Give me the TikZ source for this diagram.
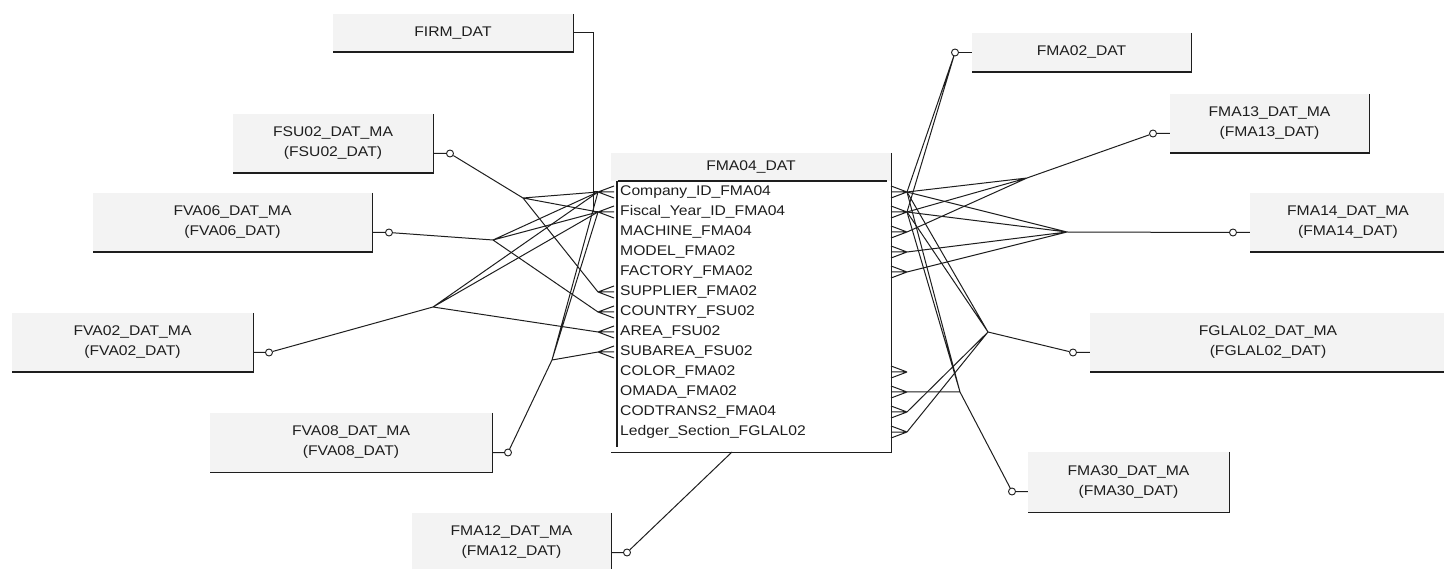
\documentclass[tikz,border=0pt]{standalone}
\usepackage{fontspec}
\setmainfont[FakeStretch=1.12]{Liberation Sans}
\definecolor{ink}{HTML}{1E1E1E}
\definecolor{boxfill}{HTML}{F3F3F3}
\begin{document}
\begin{tikzpicture}[x=1pt,y=-1pt,
  tbl/.style={fill=boxfill, inner sep=0pt, align=center, font=\fontsize{14}{20}\selectfont, text=ink},
  attr/.style={anchor=west, inner sep=0pt, font=\fontsize{14}{20}\selectfont, text=ink},
  boxline/.style={draw=ink, line width=1.4pt},
  rel/.style={draw=ink, line width=1pt},
  opt/.style={circle, draw=ink, fill=white, inner sep=0pt, minimum size=7pt, line width=0.9pt},
  crowl/.pic={\draw[rel] (0,0) -- (16,-6) (0,0) -- (16,0) (0,0) -- (16,6);},
  crowr/.pic={\draw[rel] (0,0) -- (-16,-6) (0,0) -- (-16,0) (0,0) -- (-16,6);}]
\useasboundingbox[fill=white] (0,0) rectangle (1444,569);

% ---------- peripheral tables ----------
\node[tbl, minimum width=240pt, minimum height=38pt] (firm) at (453,33) {FIRM\_DAT};
\node[tbl, minimum width=200pt, minimum height=59pt] (fsu) at (333,143.5) {FSU02\_DAT\_MA\\(FSU02\_DAT)};
\node[tbl, minimum width=279pt, minimum height=59pt] (fva06) at (232.5,222.5) {FVA06\_DAT\_MA\\(FVA06\_DAT)};
\node[tbl, minimum width=241pt, minimum height=59pt] (fva02) at (132.5,342.5) {FVA02\_DAT\_MA\\(FVA02\_DAT)};
\node[tbl, minimum width=282pt, minimum height=59pt] (fva08) at (351,442.5) {FVA08\_DAT\_MA\\(FVA08\_DAT)};
\node[tbl, minimum width=199pt, minimum height=59pt] (fma12) at (511.5,542.5) {FMA12\_DAT\_MA\\(FMA12\_DAT)};
\node[tbl, minimum width=219pt, minimum height=39pt] (fma02) at (1081.5,52.5) {FMA02\_DAT};
\node[tbl, minimum width=199pt, minimum height=59pt] (fma13) at (1269.5,123.5) {FMA13\_DAT\_MA\\(FMA13\_DAT)};
\node[tbl, minimum width=196pt, minimum height=59pt] (fma14) at (1348,222.5) {FMA14\_DAT\_MA\\(FMA14\_DAT)};
\node[tbl, minimum width=356pt, minimum height=59pt] (fglal) at (1268,342.5) {FGLAL02\_DAT\_MA\\(FGLAL02\_DAT)};
\node[tbl, minimum width=201pt, minimum height=60pt] (fma30) at (1128.5,482) {FMA30\_DAT\_MA\\(FMA30\_DAT)};
\foreach \n in {firm,fsu,fva06,fva02,fva08,fma02,fma13,fma14,fglal,fma30}
  \draw[boxline] (\n.north east) -- (\n.south east) -- (\n.south west);
\draw[boxline] (fma12.north east) -- (fma12.south east);

% ---------- central table ----------
\node[tbl, minimum width=280pt, minimum height=28pt] (ttl) at (751,167) {FMA04\_DAT};
\node[fill=white, inner sep=0pt, minimum width=280pt, minimum height=271pt] (tbody) at (751,316.5) {};
\draw[boxline] (ttl.north east) -- (tbody.south east) -- (tbody.south west);
\draw[boxline] ([xshift=7pt]ttl.south west) -- ([xshift=-4pt]ttl.south east);
\draw[boxline] ([xshift=6pt]tbody.north west) -- ([xshift=6pt,yshift=5pt]tbody.south west);
\node[attr] (a1) at (620,192) {Company\_ID\_FMA04};
\node[attr] (a2) at (620,212) {Fiscal\_Year\_ID\_FMA04};
\node[attr] (a3) at (620,232) {MACHINE\_FMA04};
\node[attr] (a4) at (620,252) {MODEL\_FMA02};
\node[attr] (a5) at (620,272) {FACTORY\_FMA02};
\node[attr] (a6) at (620,292) {SUPPLIER\_FMA02};
\node[attr] (a7) at (620,312) {COUNTRY\_FSU02};
\node[attr] (a8) at (620,332) {AREA\_FSU02};
\node[attr] (a9) at (620,352) {SUBAREA\_FSU02};
\node[attr] (a10) at (620,372) {COLOR\_FMA02};
\node[attr] (a11) at (620,392) {OMADA\_FMA02};
\node[attr] (a12) at (620,412) {CODTRANS2\_FMA04};
\node[attr] (a13) at (620,432) {Ledger\_Section\_FGLAL02};

% crow's feet anchor points
\foreach \k in {1,...,13} {
  \coordinate (L\k) at (598,172+20*\k);
  \coordinate (R\k) at (907,172+20*\k);
}
\foreach \k in {1,2,6,7,8,9} \pic at (L\k) {crowl};
\foreach \k in {1,2,3,4,5,10,11,12,13} \pic at (R\k) {crowr};

% ---------- left relationships ----------
\coordinate (firmJ) at (593,33);
\coordinate (firmV) at (593,212);
\draw[rel] (firm.east) -- (firmJ) -- (firmV) -- (L2);
\draw[rel] (firmJ |- L1) -- (L1);

\node[opt] (cfsu) at (450,153.5) {};
\coordinate (bfsu) at (523,198);
\draw[rel] (fsu.east |- cfsu) -- (cfsu) -- (bfsu);
\draw[rel] (bfsu) -- (L1) (bfsu) -- (L2) (bfsu) -- (L6);

\node[opt] (cfva06) at (389,232.5) {};
\coordinate (bfva06) at (493,240);
\draw[rel] (fva06.east |- cfva06) -- (cfva06) -- (bfva06);
\draw[rel] (bfva06) -- (L1) (bfva06) -- (L2) (bfva06) -- (L7);

\node[opt] (cfva02) at (269,352.5) {};
\coordinate (bfva02) at (433,307);
\draw[rel] (fva02.east |- cfva02) -- (cfva02) -- (bfva02);
\draw[rel] (bfva02) -- (L1) (bfva02) -- (L2) (bfva02) -- (L8);

\node[opt] (cfva08) at (508,452.5) {};
\coordinate (bfva08) at (552,360);
\draw[rel] (fva08.east |- cfva08) -- (cfva08) -- (bfva08);
\draw[rel] (bfva08) -- (L1) (bfva08) -- (L2) (bfva08) -- (L9);

\node[opt] (cfma12) at (627,552.5) {};
\coordinate (tfma12) at (732,452);
\draw[rel] (fma12.east |- cfma12) -- (cfma12) -- (tfma12);

% ---------- right relationships ----------
\node[opt] (cfma02) at (955,52.5) {};
\draw[rel] (fma02.west) -- (cfma02);
\draw[rel] (cfma02) -- (R1) (cfma02) -- (R2);

\node[opt] (cfma13) at (1153,133.5) {};
\coordinate (bfma13) at (1027,178);
\draw[rel] (fma13.west |- cfma13) -- (cfma13) -- (bfma13);
\draw[rel] (bfma13) -- (R1) (bfma13) -- (R2) (bfma13) -- (R3);

\node[opt] (cfma14) at (1233,232.5) {};
\coordinate (bfma14) at (1067,232);
\draw[rel] (fma14.west |- cfma14) -- (cfma14) -- (bfma14);
\draw[rel] (bfma14) -- (R1) (bfma14) -- (R2) (bfma14) -- (R4) (bfma14) -- (R5);

\node[opt] (cfglal) at (1073,352.5) {};
\coordinate (bfglal) at (988,332);
\draw[rel] (fglal.west |- cfglal) -- (cfglal) -- (bfglal);
\draw[rel] (bfglal) -- (R1) (bfglal) -- (R2) (bfglal) -- (R12) (bfglal) -- (R13);

\node[opt] (cfma30) at (1012,491.5) {};
\coordinate (bfma30) at (960,392);
\draw[rel] (fma30.west |- cfma30) -- (cfma30) -- (bfma30);
\draw[rel] (bfma30) -- (R1) (bfma30) -- (R2) (bfma30) -- (R11);
\end{tikzpicture}
\end{document}
